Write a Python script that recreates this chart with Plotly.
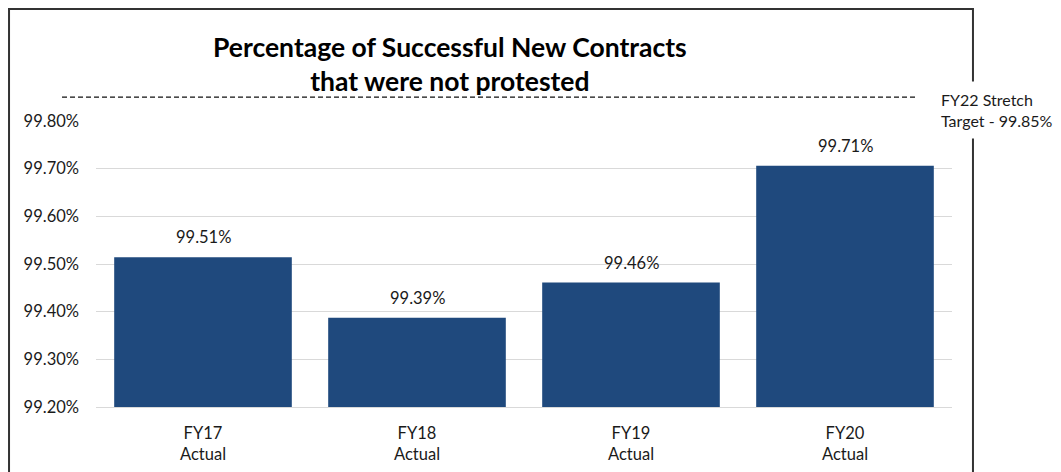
import plotly.graph_objects as go

categories = ["FY17<br>Actual", "FY18<br>Actual", "FY19<br>Actual", "FY20<br>Actual"]
values = [99.514, 99.387, 99.461, 99.706]
labels = ["99.51%", "99.39%", "99.46%", "99.71%"]
target = 99.85
target_label = "FY22 Stretch<br>Target - 99.85%"
title_text = "<b>Percentage of Successful New Contracts<br>that were not protested</b>"
y_ticks = [99.2, 99.3, 99.4, 99.5, 99.6, 99.7, 99.8]
y_tick_text = ["99.20%", "99.30%", "99.40%", "99.50%", "99.60%", "99.70%", "99.80%"]
y_min, y_max = 99.2, 99.8

FONT = "Lato, Carlito, 'Open Sans', sans-serif"
TXT = "#1a1a1a"

fig = go.Figure()
fig.add_trace(go.Bar(
    x=categories, y=values,
    marker=dict(color="#1F497D", line=dict(width=0)),
    hoverinfo="x+y",
))

# value labels above bars
for c, v, t in zip(categories, values, labels):
    fig.add_annotation(x=c, y=v, text=t, showarrow=False, xref="x", yref="y",
                       yanchor="bottom", yshift=8,
                       font=dict(size=16.5, color=TXT, family=FONT))

target_paper = (target - y_min) / (y_max - y_min)

fig.add_shape(type="line", xref="paper", yref="paper",
              x0=-0.0397, x1=0.9568, y0=target_paper, y1=target_paper,
              line=dict(color="#111111", width=1.2, dash="5px,3px"))

# outer border
fig.add_shape(type="rect", xref="paper", yref="paper",
              x0=-0.1016, x1=1.0245, y0=-0.5, y1=1.3916,
              line=dict(color="#333333", width=2), layer="below")

fig.add_annotation(text=target_label, xref="paper", yref="paper",
                   x=0.9766, y=1.039, xanchor="left", yanchor="middle",
                   showarrow=False, align="left", bgcolor="white",
                   font=dict(size=16, color=TXT, family=FONT),
                   borderpad=8)

# chart title
fig.add_annotation(text=title_text, xref="paper", yref="paper",
                   x=0.4136, y=1.201, xanchor="center", yanchor="middle",
                   showarrow=False, align="center",
                   font=dict(size=26.5, color="#000000", family=FONT))

fig.update_layout(
    width=1053, height=464,
    margin=dict(l=88, r=109, t=113, b=65, autoexpand=False),
    paper_bgcolor="white", plot_bgcolor="white",
    font=dict(family=FONT, size=16.5, color=TXT),
    bargap=0.17,
    showlegend=False,
)
fig.update_yaxes(range=[y_min, y_max], tickvals=y_ticks, ticktext=y_tick_text,
                 showgrid=True, gridcolor="#D9D9D9", gridwidth=1,
                 zeroline=False, showline=False, ticks="", ticklabelstandoff=16,
                 tickfont=dict(size=16.5, color=TXT), automargin=False)
fig.update_xaxes(showline=True, linecolor="#D9D9D9", linewidth=1, ticks="",
                 tickfont=dict(size=16.5, color=TXT), ticklabelstandoff=11,
                 automargin=False)

fig.write_html("out.html")
